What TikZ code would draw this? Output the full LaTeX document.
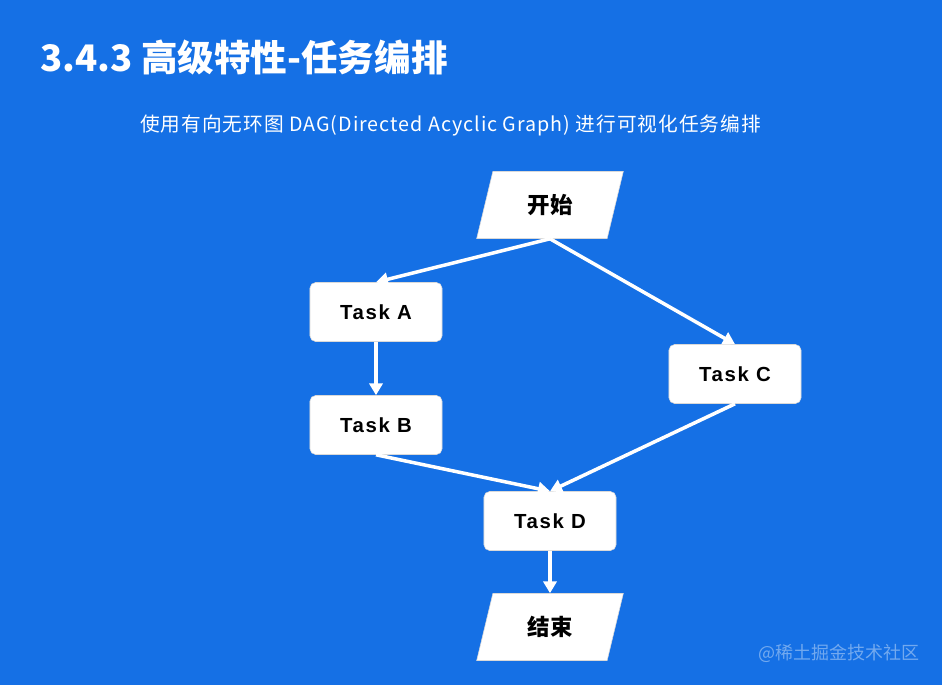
\documentclass[tikz,border=0pt]{standalone}
\usepackage{fontspec}
\setmainfont{Liberation Sans}
\newfontfamily\cjk{Noto Sans CJK SC}
\newfontfamily\cjkwide{Noto Sans CJK SC}[LetterSpace=5.0]
\newfontfamily\taskfont{Liberation Sans}[LetterSpace=8.0]
\usetikzlibrary{arrows.meta,shapes.geometric}
\definecolor{bgblue}{RGB}{21,112,229}
\tikzset{
  taskbox/.style={draw=gray!30, fill=white, rounded corners=4pt, minimum width=3.3cm,
    minimum height=1.475cm, font=\taskfont\bfseries\fontsize{14.5}{17}\selectfont},
  termbox/.style={trapezium, trapezium left angle=76, trapezium right angle=104,
    trapezium stretches=true, draw=gray!30, fill=white, minimum width=3.675cm,
    minimum height=1.675cm, font=\cjk\bfseries\fontsize{16}{19}\selectfont},
  flow/.style={draw=white, line width=2.5pt, -{Triangle[length=8.5pt,width=9.5pt]}}
}

\begin{document}
\begin{tikzpicture}[x=0.025cm,y=-0.025cm]
  \fill[bgblue] (0,0) rectangle (942,685);
  \node[anchor=west, inner sep=0, text=white, font=\cjk\bfseries\fontsize{26}{30}\selectfont]
    (title) at (40,57) {3.4.3 高级特性-任务编排};
  \node[anchor=west, inner sep=0, text=white, font=\cjkwide\fontsize{14}{16}\selectfont]
    (subtitle) at (140,125) {使用有向无环图 DAG(Directed Acyclic Graph) 进行可视化任务编排};
  % flow chart
  \node[termbox] (start) at (550,205) {开始};
  \node[taskbox] (taskA) at (376,312) {Task A};
  \node[taskbox] (taskB) at (376,425) {Task B};
  \node[taskbox] (taskC) at (735,374) {Task C};
  \node[taskbox] (taskD) at (550,521) {Task D};
  \node[termbox] (stop) at (550,627) {结束};
  \draw[flow] (start.south) -- (taskA.north);
  \draw[flow] (start.south) -- (taskC.north);
  \draw[flow] (taskA.south) -- (taskB.north);
  \draw[flow] (taskB.south) -- (taskD.north);
  \draw[flow] (taskC.south) -- (taskD.north);
  \draw[flow] (taskD.south) -- (stop.north);
  \node[anchor=west, inner sep=0, text=white!40!bgblue, font=\cjk\fontsize{12.8}{15}\selectfont]
    (mark) at (758,653) {@稀土掘金技术社区};
\end{tikzpicture}
\end{document}
